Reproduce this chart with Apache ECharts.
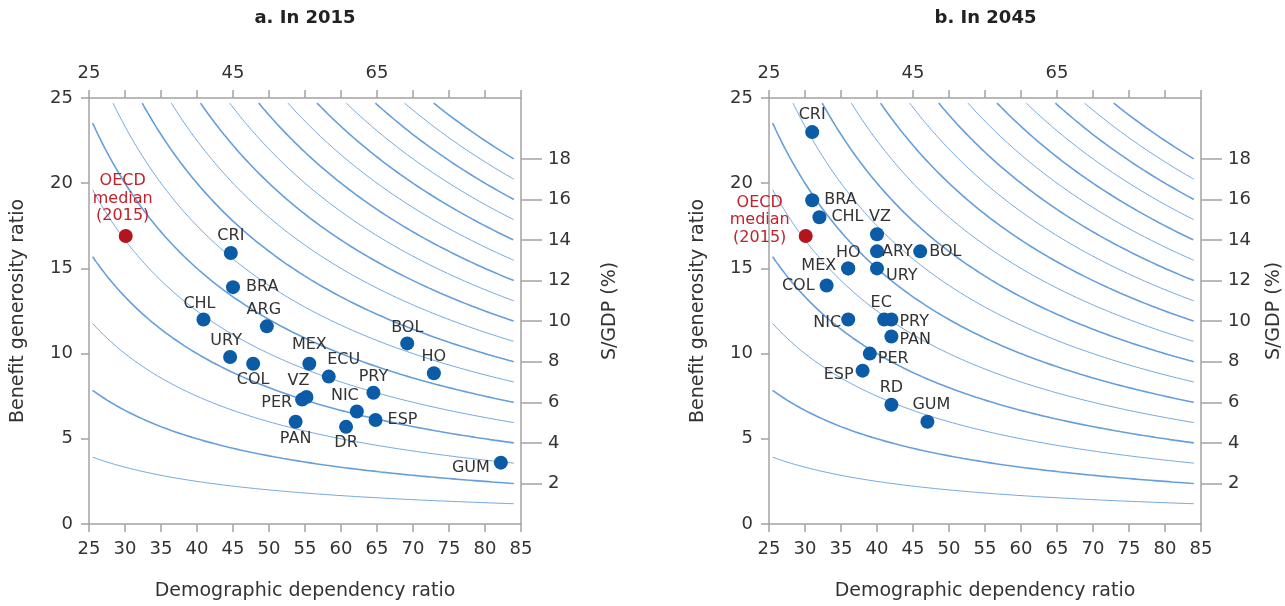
<!DOCTYPE html>
<html><head><meta charset="utf-8">
<script src="https://cdn.jsdelivr.net/npm/echarts@6/dist/echarts.min.js"></script>
<style>html,body{margin:0;padding:0;background:#fff}#c{width:1285px;height:606px}</style>
</head><body><div id="c"></div>
<script>
// ---------------- data ----------------
const panelTitles = ['a. In 2015', 'b. In 2045'];
const xTickLabelsTop = [25, 45, 65];
const sgdpCurveLevels = [1, 2, 3, 4, 5, 6, 7, 8, 9, 10, 11, 12, 13, 14, 15, 16, 17, 18];
const sgdpTickLabels = [2, 4, 6, 8, 10, 12, 14, 16, 18];
const oecdMedianName = 'OECD\nmedian\n(2015)';
const oecdMedian = [30.1, 16.9];

const countries2015 = ['CRI', 'BRA', 'CHL', 'ARG', 'URY', 'COL', 'MEX', 'ECU', 'BOL', 'HO', 'PRY', 'VZ', 'PER', 'NIC', 'ESP', 'PAN', 'DR', 'GUM'];
const dependency2015 = [44.7, 45.0, 40.9, 49.7, 44.6, 47.8, 55.6, 58.3, 69.2, 72.9, 64.5, 55.2, 54.6, 62.2, 64.8, 53.7, 60.7, 82.2];
const generosity2015 = [15.9, 13.9, 12.0, 11.6, 9.8, 9.4, 9.4, 8.65, 10.6, 8.85, 7.7, 7.45, 7.3, 6.6, 6.1, 6.0, 5.7, 3.6];

const countries2045 = ['CRI', 'BRA', 'CHL', 'VZ', 'ARY', 'BOL', 'HO', 'URY', 'MEX', 'COL', 'NIC', 'EC', 'PRY', 'PAN', 'PER', 'ESP', 'RD', 'GUM'];
const dependency2045 = [31, 31, 32, 40, 40, 46, 36, 40, 36, 33, 36, 41, 42, 42, 39, 38, 42, 47];
const generosity2045 = [23, 19, 18, 17, 16, 16, 15, 15, 15, 14, 12, 12, 12, 11, 10, 9, 7, 6];

// ---------------- styling / layout ----------------
const FONT = 'DejaVu Sans';
const TXT = '#333333';
const AXC = '#a3a3a3';
const CURVE = '#659fda';
const DOT = '#0b5ba6';
const RED = '#b3141d';
const RIGHT_END = 84;
const SYM = 14;

// label placement helper: side, distance, dx, dy  -> label position relative to symbol box
function lp(side, d, dx, dy) {
  dx = dx || 0; dy = dy || 0;
  const h = SYM / 2;
  if (side === 'top') return {position: [h + dx, -d + dy], align: 'center', verticalAlign: 'bottom'};
  if (side === 'bottom') return {position: [h + dx, SYM + d + dy], align: 'center', verticalAlign: 'top'};
  if (side === 'left') return {position: [-d + dx, h + dy], align: 'right', verticalAlign: 'middle'};
  return {position: [SYM + d + dx, h + dy], align: 'left', verticalAlign: 'middle'};
}

const labelPlace2015 = {
  CRI: lp('top', 2), BRA: lp('right', 6), CHL: lp('top', 1, -4), ARG: lp('top', 1, -3),
  URY: lp('top', 1, -4), COL: lp('bottom', 1), MEX: lp('top', 4), ECU: lp('top', 2, 15),
  BOL: lp('top', 1), HO: lp('top', 1), PRY: lp('top', 1), VZ: lp('top', 1, -8),
  PER: lp('left', 3, 0, 3), NIC: lp('top', 1, -12), ESP: lp('right', 5), PAN: lp('bottom', 2),
  DR: lp('bottom', 1), GUM: lp('left', 4, 0, 5)
};
const labelPlace2045 = {
  CRI: lp('top', 2), BRA: lp('right', 5), CHL: lp('right', 5), VZ: lp('top', 2, 3),
  ARY: lp('right', -2), BOL: lp('right', 2), HO: lp('top', 1), URY: lp('right', 2, 0, 7),
  MEX: lp('left', 5, 0, -3), COL: lp('left', 5), NIC: lp('left', 0, 0, 3), EC: lp('top', 2, -3),
  PRY: lp('right', 1, 0, 2), PAN: lp('right', 1, 0, 3), PER: lp('right', 1, 0, 5),
  ESP: lp('left', 2, 0, 4), RD: lp('top', 2), GUM: lp('top', 2, 4)
};
const oecdPlace = [lp('top', 4, -3), lp('left', 8, -31, -16)];
oecdPlace[1].align = 'center';

const grids = [
  {left: 89, right: 764, top: 98, bottom: 82},
  {left: 769, right: 83, top: 98, bottom: 82}
];
const rightNameGap = [80, 64];

function curvePoints(S) {
  const pts = [];
  const x0 = Math.max(25.5, 100 * S / 24.7);
  for (let x = x0; x < RIGHT_END; x += 0.25) pts.push([x, 100 * S / x]);
  pts.push([RIGHT_END, 100 * S / RIGHT_END]);
  return pts;
}

const xAxes = [], yAxes = [], series = [], graphics = [];
const tickVals = sgdpTickLabels.map(s => s * 100 / RIGHT_END);
const axisLine = {show: true, onZero: false, lineStyle: {color: AXC, width: 1.5}};
const tickFont = {fontFamily: FONT, fontSize: 18, color: TXT};
const nameFont = {fontFamily: FONT, fontSize: 19, color: TXT};

[0, 1].forEach(p => {
  xAxes.push({
    type: 'value', gridIndex: p, position: 'bottom', min: 25, max: 85, interval: 5,
    axisLine, axisTick: {show: true, length: 8, lineStyle: {color: AXC, width: 1.5}},
    axisLabel: Object.assign({margin: 16}, tickFont), splitLine: {show: false},
    name: 'Demographic dependency ratio', nameLocation: 'middle', nameGap: 58,
    nameTextStyle: nameFont
  });
  xAxes.push({
    type: 'value', gridIndex: p, position: 'top', min: 25, max: 85, interval: 5,
    axisLine, axisTick: {show: true, length: 8, lineStyle: {color: AXC, width: 1.5}},
    axisLabel: Object.assign({margin: 16, customValues: xTickLabelsTop}, tickFont), splitLine: {show: false}
  });
  yAxes.push({
    type: 'value', gridIndex: p, position: 'left', min: 0, max: 25, interval: 5,
    axisLine, axisTick: {show: true, length: 8, lineStyle: {color: AXC, width: 1.5}},
    axisLabel: Object.assign({margin: 16}, tickFont), splitLine: {show: false},
    name: 'Benefit generosity ratio', nameLocation: 'middle', nameGap: 61, nameRotate: 90,
    nameTextStyle: nameFont
  });
  yAxes.push({
    type: 'value', gridIndex: p, position: 'right', min: 0, max: 25,
    axisLine, axisTick: {show: true, length: 21, customValues: tickVals, lineStyle: {color: AXC, width: 1.5}},
    axisLabel: Object.assign({margin: 27, customValues: tickVals, formatter: v => String(Math.round(v * RIGHT_END / 100))}, tickFont),
    splitLine: {show: false},
    name: 'S/GDP (%)', nameLocation: 'middle', nameGap: rightNameGap[p], nameRotate: 90,
    nameTextStyle: nameFont
  });

  sgdpCurveLevels.forEach(S => {
    series.push({
      type: 'line', xAxisIndex: 2 * p, yAxisIndex: 2 * p, data: curvePoints(S),
      showSymbol: false, symbol: 'none', silent: true, z: 1,
      lineStyle: {color: CURVE, width: S % 2 === 0 ? 1.6 : 0.9}
    });
  });

  const names = p === 0 ? countries2015 : countries2045;
  const xs = p === 0 ? dependency2015 : dependency2045;
  const ys = p === 0 ? generosity2015 : generosity2045;
  const place = p === 0 ? labelPlace2015 : labelPlace2045;
  series.push({
    type: 'scatter', xAxisIndex: 2 * p, yAxisIndex: 2 * p, symbolSize: SYM, z: 5,
    itemStyle: {color: DOT, opacity: 1},
    label: {show: true, formatter: '{b}', fontFamily: FONT, fontSize: 16, color: TXT},
    labelLayout: {hideOverlap: false},
    data: names.map((n, i) => ({name: n, value: [xs[i], ys[i]], label: place[n]}))
  });
  series.push({
    type: 'scatter', xAxisIndex: 2 * p, yAxisIndex: 2 * p, symbolSize: SYM, z: 5,
    itemStyle: {color: RED, opacity: 1},
    label: Object.assign({show: true, formatter: '{b}', fontFamily: FONT, fontSize: 16, color: '#c0222b', lineHeight: 17.5}, oecdPlace[p], {align: 'center'}),
    data: [{name: oecdMedianName, value: oecdMedian}]
  });

  const g = grids[p];
  const cx = g.left + (1285 - g.right - g.left) / 2;
  graphics.push({
    type: 'text', x: cx, y: 18,
    style: {text: panelTitles[p], fill: '#222', font: 'bold 18px "' + FONT + '"', textAlign: 'center', textVerticalAlign: 'middle'}
  });
});

const chart = echarts.init(document.getElementById('c'), null, {renderer: 'canvas'});
chart.setOption({
  animation: false,
  backgroundColor: '#ffffff',
  grid: grids,
  xAxis: xAxes,
  yAxis: yAxes,
  series,
  graphic: graphics
});
</script>
</body></html>
